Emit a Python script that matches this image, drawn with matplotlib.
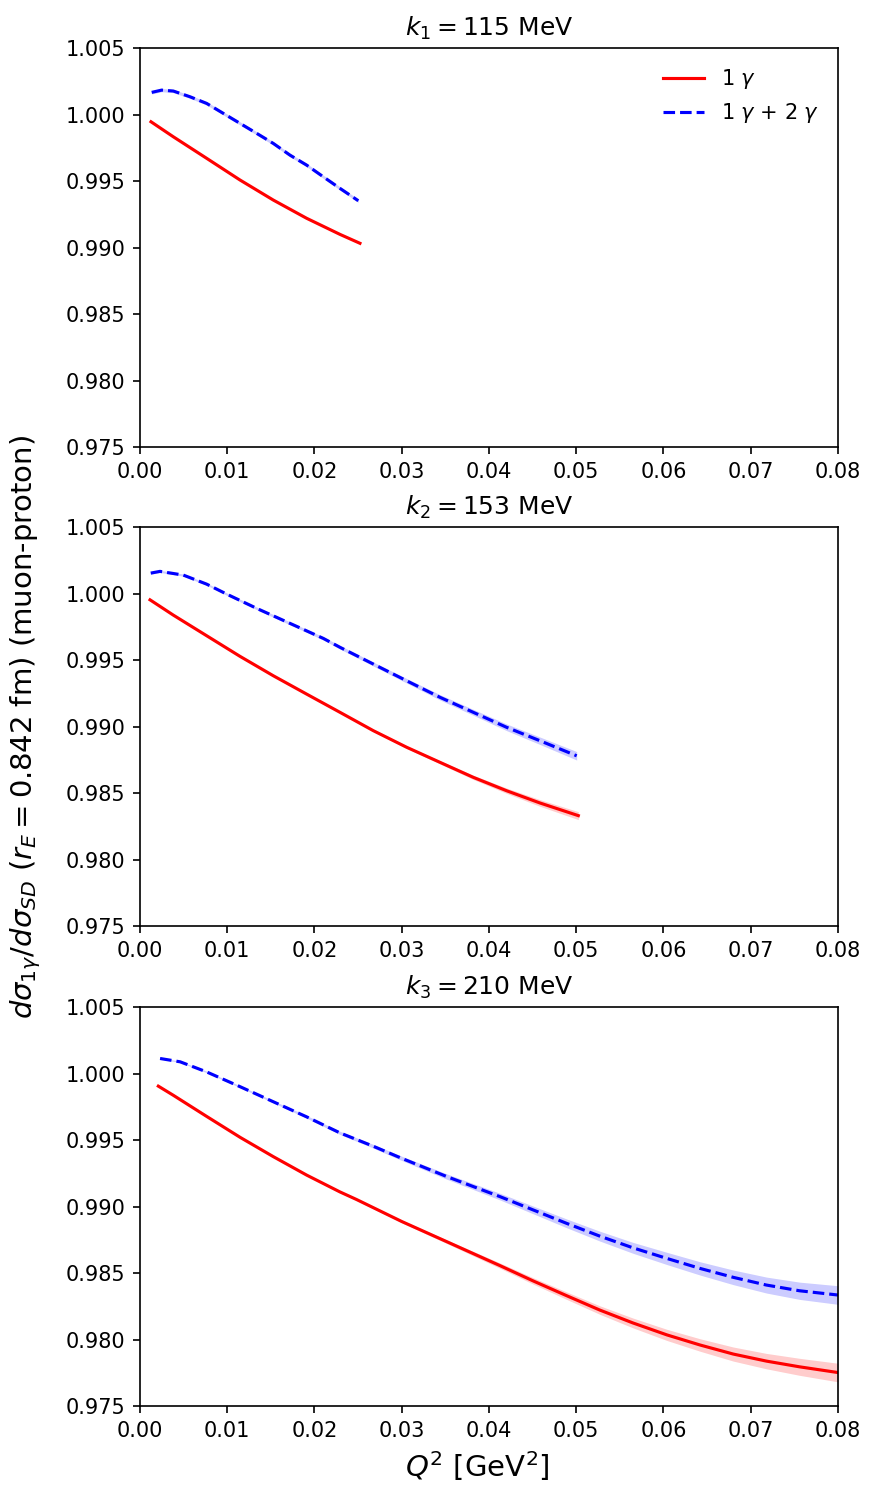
import matplotlib.pyplot as plt
import numpy as np

# Beam momenta for the three panels
k_labels = [r"$k_1 = 115$ MeV", r"$k_2 = 153$ MeV", r"$k_3 = 210$ MeV"]

# Panel 1 (k1 = 115 MeV)
q2_1_one = [0.00126, 0.00382, 0.00764, 0.01146, 0.01528, 0.0191, 0.02292, 0.02521]
one_gamma_1 = [0.99946, 0.99833, 0.99671, 0.99508, 0.99357, 0.9922, 0.99099, 0.99032]
one_err_1 = [0.00001] * 8
q2_1_two = [0.00134, 0.00248, 0.00382, 0.00573, 0.00764, 0.00955, 0.01146,
            0.01337, 0.01528, 0.01719, 0.0191, 0.02101, 0.02292, 0.02502]
two_gamma_1 = [1.00167, 1.00184, 1.00177, 1.00134, 1.00084, 1.00009, 0.99934,
               0.99859, 0.99783, 0.99695, 0.9962, 0.99532, 0.99445, 0.99352]
two_err_1 = [0.00012] * 14

# Panel 2 (k2 = 153 MeV)
q2_2_one = [0.00115, 0.00382, 0.00764, 0.01146, 0.01528, 0.0191, 0.02292,
            0.02674, 0.03057, 0.03438, 0.0382, 0.04203, 0.04585, 0.05024]
one_gamma_2 = [0.99953, 0.99838, 0.99683, 0.99528, 0.99382, 0.99244, 0.99107,
               0.98969, 0.98844, 0.98731, 0.98618, 0.98517, 0.98425, 0.98330]
one_err_2 = [0.0, 0.0, 0.0, 0.0, 0.00001, 0.00002, 0.00004,
             0.00006, 0.00009, 0.00012, 0.00016, 0.0002, 0.00025, 0.0003]
q2_2_two = [0.00123, 0.00229, 0.00497, 0.00764, 0.00994, 0.01337, 0.01719, 0.02101,
            0.02292, 0.02674, 0.03057, 0.03438, 0.0382, 0.04203, 0.04585, 0.05005]
two_gamma_2 = [1.00154, 1.00167, 1.00139, 1.00071, 0.99996, 0.99889, 0.99776, 0.99663,
               0.99596, 0.9947, 0.99344, 0.9922, 0.99107, 0.98994, 0.98893, 0.9878]
two_err_2 = [0.00008, 0.00008, 0.00008, 0.00008, 0.00009, 0.0001, 0.00011, 0.00012,
             0.00013, 0.00015, 0.00017, 0.0002, 0.00022, 0.00025, 0.00028, 0.00032]

# Panel 3 (k3 = 210 MeV)
q2_3_one = [0.0021, 0.0038, 0.0076, 0.0115, 0.0153, 0.0191, 0.0229, 0.0248, 0.0300, 0.0352,
            0.0413, 0.0451, 0.0489, 0.0527, 0.0565, 0.0604, 0.0642, 0.0680, 0.0718, 0.0756, 0.0800]
one_gamma_3 = [0.99906, 0.99838, 0.99680, 0.99520, 0.99375, 0.99237, 0.99111, 0.99054, 0.98888, 0.98735,
               0.98555, 0.98440, 0.98330, 0.98222, 0.98125, 0.98035, 0.97959, 0.97891, 0.97838, 0.97795, 0.97752]
one_err_3 = [0.0, 0.0, 0.0, 0.00001, 0.00002, 0.00004, 0.00006, 0.00007, 0.0001, 0.00014,
             0.0002, 0.00024, 0.00028, 0.00032, 0.00037, 0.00042, 0.00047, 0.00053, 0.00058, 0.00064, 0.0007]
q2_3_two = [0.0023, 0.0046, 0.0076, 0.0115, 0.0153, 0.0191, 0.0229, 0.0267, 0.0300, 0.0352,
            0.0413, 0.0451, 0.0489, 0.0527, 0.0565, 0.0604, 0.0642, 0.0680, 0.0718, 0.0756, 0.0800]
two_gamma_3 = [1.00114, 1.00089, 1.00014, 0.99901, 0.99788, 0.99675, 0.99555, 0.99455, 0.99363, 0.99225,
               0.99074, 0.98974, 0.98874, 0.98778, 0.98690, 0.98610, 0.98535, 0.98468, 0.98410, 0.98367, 0.98335]
two_err_3 = [0.00004, 0.00005, 0.00006, 0.00007, 0.00008, 0.0001, 0.00012, 0.00014, 0.00016, 0.0002,
             0.00025, 0.00029, 0.00033, 0.00037, 0.00041, 0.00046, 0.0005, 0.00055, 0.0006, 0.00065, 0.0007]

panels = [
    (q2_1_one, one_gamma_1, one_err_1, q2_1_two, two_gamma_1, two_err_1),
    (q2_2_one, one_gamma_2, one_err_2, q2_2_two, two_gamma_2, two_err_2),
    (q2_3_one, one_gamma_3, one_err_3, q2_3_two, two_gamma_3, two_err_3),
]

fig = plt.figure(figsize=(875 / 150, 1503 / 150), dpi=150)
left, width = 0.16, 0.7977
bottoms = [0.7026, 0.3839, 0.0645]
height = 0.2654

axes = []
for i, (x1, y1, e1, x2, y2, e2) in enumerate(panels):
    ax = fig.add_axes([left, bottoms[i], width, height])
    x1, y1, e1 = np.array(x1), np.array(y1), np.array(e1)
    x2, y2, e2 = np.array(x2), np.array(y2), np.array(e2)
    ax.fill_between(x1, y1 - e1, y1 + e1, color="red", alpha=0.2, linewidth=0)
    ax.fill_between(x2, y2 - e2, y2 + e2, color="blue", alpha=0.2, linewidth=0)
    ax.plot(x1, y1, color="red", linestyle="-", label=r"1 $\gamma$")
    ax.plot(x2, y2, color="blue", linestyle="--", label=r"1 $\gamma$ + 2 $\gamma$")
    ax.set_xlim(0, 0.08)
    ax.set_ylim(0.975, 1.005)
    ax.set_yticks(np.arange(0.975, 1.0051, 0.005))
    ax.set_title(k_labels[i], fontsize=12)
    axes.append(ax)

axes[0].legend(loc="upper right", frameon=False)
axes[1].set_ylabel(r"$d\sigma_{1\gamma}/d\sigma_{SD}$ ($r_E = 0.842$ fm) (muon-proton)", fontsize=14)
axes[1].yaxis.set_label_coords(-0.139, 0.5)
axes[2].set_xlabel(r"$Q^2$ [GeV$^2$]", fontsize=14)
axes[2].xaxis.label.set_x(0.483)

plt.savefig("out.png", dpi=150)
